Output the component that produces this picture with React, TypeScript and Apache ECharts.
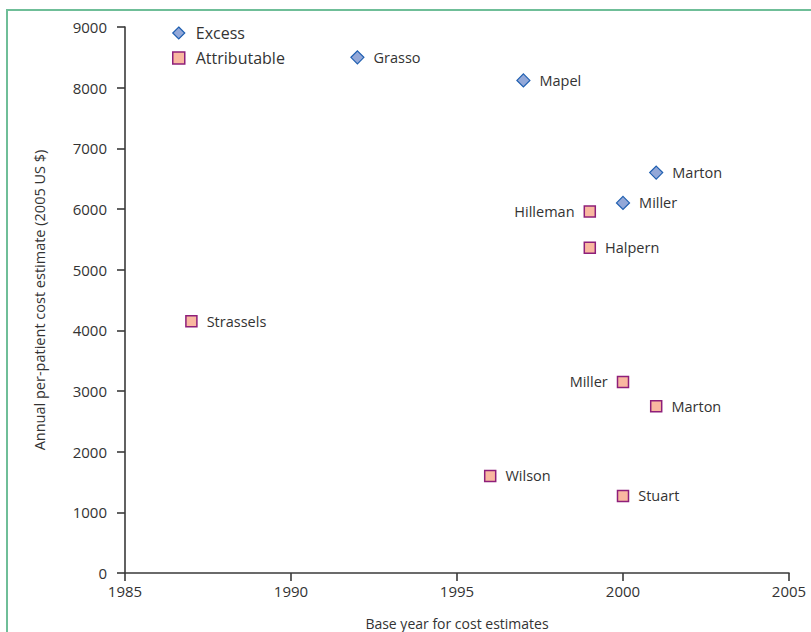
import React, { useEffect, useRef } from "react";
import * as echarts from "echarts";

// Base year of each study and its annual per-patient cost (2005 US $)
const excessNames = ["Grasso", "Mapel", "Marton", "Miller"];
const excessYears = [1992, 1997, 2001, 2000];
const excessCosts = [8500, 8120, 6600, 6100];

const attribNames = ["Hilleman", "Halpern", "Strassels", "Miller", "Marton", "Wilson", "Stuart"];
const attribYears = [1999, 1999, 1987, 2000, 2001, 1996, 2000];
const attribCosts = [5960, 5360, 4150, 3150, 2750, 1600, 1270];
// Studies whose label sits to the left of the marker
const leftLabelled = ["Hilleman", "Miller"];

const FONT = "'Open Sans', 'Noto Sans', sans-serif";
const TEXT = "#333333";
const AXIS = "#3a3a3a";

const excessStyle = { color: "#93a8d8", borderColor: "#1f5fb0", borderWidth: 1.2, opacity: 1 };
const attribStyle = { color: "#f9b8a0", borderColor: "#8e1f7a", borderWidth: 1.5, opacity: 1 };

export default function App() {
  const ref = useRef<HTMLDivElement>(null);

  useEffect(() => {
    if (!ref.current) return;
    const chart = echarts.init(ref.current, null, { renderer: "svg" });

    const excessData = excessNames.map((n, i) => ({
      name: n,
      value: [excessYears[i], excessCosts[i]],
      label: { position: "right" },
    }));
    const attribData = attribNames.map((n, i) => ({
      name: n,
      value: [attribYears[i], attribCosts[i]],
      label: { position: leftLabelled.includes(n) ? "left" : "right" },
    }));

    const seriesLabel = {
      show: true,
      formatter: "{b}",
      color: TEXT,
      fontFamily: FONT,
      fontSize: 14.5,
      distance: 9,
    };

    chart.setOption({
      animation: false,
      textStyle: { fontFamily: FONT },
      grid: {
        left: 125,
        right: 22,
        top: 27,
        bottom: 59,
        containLabel: false,
        outerBoundsMode: "none",
      },
      legend: {
        orient: "vertical",
        left: 167,
        top: 20,
        itemWidth: 12,
        itemHeight: 12,
        itemGap: 9,
        textStyle: { color: TEXT, fontSize: 16, fontFamily: FONT, padding: [0, 0, 0, 6] },
        data: [
          { name: "Excess", icon: "diamond", itemStyle: { ...excessStyle, borderWidth: 1.2 } },
          { name: "Attributable", icon: "rect", itemStyle: { ...attribStyle, borderWidth: 1.5 } },
        ],
      },
      xAxis: {
        type: "value",
        min: 1985,
        max: 2005,
        interval: 5,
        name: "Base year for cost estimates",
        nameLocation: "middle",
        nameGap: 43,
        nameTextStyle: { color: TEXT, fontSize: 14, fontFamily: FONT },
        axisLine: { show: true, lineStyle: { color: AXIS, width: 1.6 } },
        axisTick: { show: true, length: 8, lineStyle: { color: AXIS, width: 1.6 } },
        axisLabel: {
          color: TEXT,
          fontSize: 15,
          margin: 10,
          fontFamily: FONT,
          formatter: (v: number) => String(v),
        },
        splitLine: { show: false },
      },
      yAxis: {
        type: "value",
        min: 0,
        max: 9000,
        interval: 1000,
        name: "Annual per-patient cost estimate (2005 US $)",
        nameLocation: "middle",
        nameGap: 78,
        nameTextStyle: { color: TEXT, fontSize: 14.5, fontFamily: FONT },
        axisLine: { show: true, lineStyle: { color: AXIS, width: 1.6 } },
        axisTick: { show: true, length: 8, lineStyle: { color: AXIS, width: 1.6 } },
        axisLabel: {
          color: TEXT,
          fontSize: 15,
          margin: 18,
          fontFamily: FONT,
          formatter: (v: number) => String(v),
        },
        splitLine: { show: false },
      },
      graphic: [
        {
          type: "polyline",
          shape: { points: [[7, 632], [7, 10], [811, 10]] },
          style: { stroke: "#6fbe98", lineWidth: 2, fill: null },
          silent: true,
        },
      ],
      series: [
        {
          name: "Excess",
          type: "scatter",
          symbol: "diamond",
          symbolSize: 13,
          itemStyle: excessStyle,
          label: seriesLabel,
          data: excessData,
        },
        {
          name: "Attributable",
          type: "scatter",
          symbol: "rect",
          symbolSize: 11,
          itemStyle: attribStyle,
          label: seriesLabel,
          data: attribData,
        },
      ],
    });

    return () => chart.dispose();
  }, []);

  return (
    <div
      ref={ref}
      style={{ position: "fixed", left: 0, top: 0, width: 811, height: 632, background: "#ffffff" }}
    />
  );
}
